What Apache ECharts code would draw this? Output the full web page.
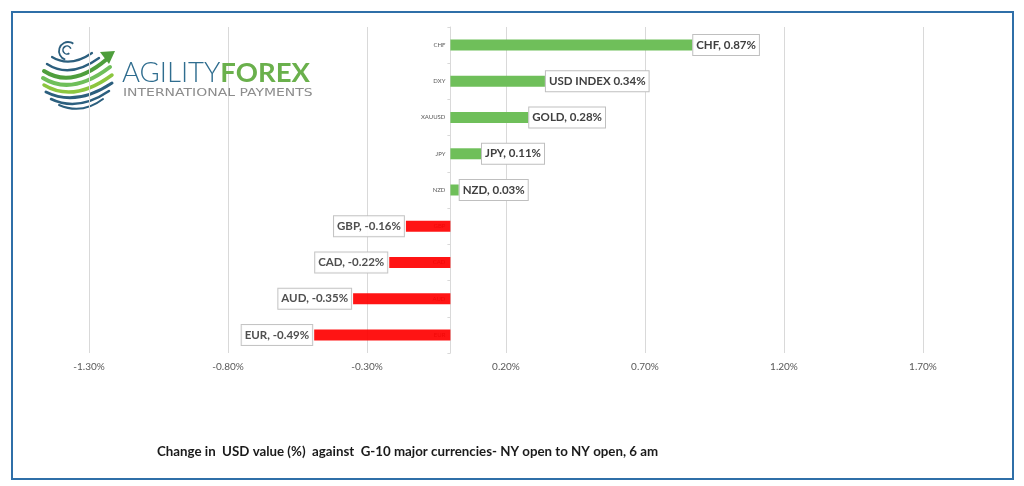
<!DOCTYPE html>
<html>
<head>
<meta charset="utf-8">
<script src="https://cdn.jsdelivr.net/npm/echarts@6/dist/echarts.min.js"></script>
<style>
html,body{margin:0;padding:0;background:#fff;}
#chart{width:1024px;height:486px;}
</style>
</head>
<body>
<div id="chart"></div>
<script>
// ---- data ----
const categories = ['CHF', 'DXY', 'XAUUSD', 'JPY', 'NZD', 'GBP', 'CAD', 'AUD', 'EUR'];
const values = [0.87, 0.34, 0.28, 0.11, 0.03, -0.16, -0.22, -0.35, -0.49];
const dataLabels = ['CHF, 0.87%', 'USD INDEX 0.34%', 'GOLD, 0.28%', 'JPY, 0.11%', 'NZD, 0.03%',
                    'GBP, -0.16%', 'CAD, -0.22%', 'AUD, -0.35%', 'EUR, -0.49%'];
const xTickMin = -1.3;
const xTickMax = 1.7;
const xTickStep = 0.5;
const chartTitle = 'Change in  USD value (%)  against  G-10 major currencies- NY open to NY open, 6 am';
const logoWord1 = 'AGILITY';
const logoWord2 = 'FOREX';
const logoSub = 'INTERNATIONAL PAYMENTS';

const GREEN = '#6fbf5a';
const RED = '#ff0000';
const LABEL_FONT = 'Lato, "Open Sans", sans-serif';

// layout
const GRID_LEFT = 89, GRID_RIGHT = 101, GRID_TOP = 27, GRID_BOTTOM = 133;
const gridWidth = 1024 - GRID_LEFT - GRID_RIGHT;
// place the category axis on the zero line of the value axis
const yAxisOffset = -((0 - xTickMin) / (xTickMax - xTickMin)) * gridWidth;

const seriesData = values.map((v, i) => ({
  value: v,
  itemStyle: { color: v >= 0 ? GREEN : RED, opacity: v >= 0 ? 1 : 0.92 },
  label: { position: v >= 0 ? 'right' : 'left', distance: v >= 0 ? 1 : 2 }
}));

const chart = echarts.init(document.getElementById('chart'), null, { renderer: 'canvas' });

const BLUE = '#2c5f7e';
const LGREEN = '#8cc63f';
const DGREEN = '#4e9e3c';
function curve(x1, y1, cx, cy, x2, y2, color, lw) {
  return { type: 'bezierCurve', silent: true,
    shape: { x1: x1, y1: y1, cpx1: cx, cpy1: cy, x2: x2, y2: y2 },
    style: { stroke: color, lineWidth: lw, fill: null, lineCap: 'round' } };
}

const option = {
  backgroundColor: '#ffffff',
  animation: false,
  grid: { left: GRID_LEFT, right: GRID_RIGHT, top: GRID_TOP, bottom: GRID_BOTTOM, containLabel: false },
  xAxis: {
    type: 'value',
    min: xTickMin,
    max: xTickMax,
    interval: xTickStep,
    axisLine: { show: false },
    axisTick: { show: false },
    splitLine: { show: true, lineStyle: { color: '#d9d9d9', width: 1 } },
    axisLabel: {
      margin: 9,
      fontSize: 10,
      color: '#595959',
      fontFamily: LABEL_FONT,
      formatter: v => v.toFixed(2) + '%'
    }
  },
  yAxis: {
    type: 'category',
    data: categories,
    inverse: true,
    position: 'left',
    offset: yAxisOffset,
    axisLine: { show: true, onZero: false, lineStyle: { color: '#d9d9d9', width: 1 } },
    axisTick: { show: true, length: 3, lineStyle: { color: '#d9d9d9' } },
    axisLabel: { fontSize: 6, color: '#595959', margin: 5, fontFamily: LABEL_FONT },
    splitLine: { show: false }
  },
  series: [{
    type: 'bar',
    data: seriesData,
    barWidth: 11,
    z: 3,
    label: {
      show: true,
      formatter: p => dataLabels[p.dataIndex],
      fontFamily: LABEL_FONT,
      fontWeight: 'bold',
      fontSize: 11.5,
      color: '#404040',
      backgroundColor: '#ffffff',
      borderColor: '#bfbfbf',
      borderWidth: 1,
      padding: [4, 3, 3, 3],
      lineHeight: 13
    }
  }],
  graphic: [
    // outer frame
    { type: 'rect', silent: true, z: 10,
      shape: { x: 12, y: 12, width: 1001, height: 467 },
      style: { fill: null, stroke: '#2f6fa8', lineWidth: 2 } },
    // title
    { type: 'text', silent: true, z: 10, x: 157, y: 452,
      style: { text: chartTitle, fontFamily: LABEL_FONT, fontWeight: 'bold', fontSize: 13.3,
               fill: '#1a1a1a', verticalAlign: 'middle', align: 'left' } },
    // logo globe
    { type: 'group', silent: true, z: 10, children: [
      { type: 'arc', shape: { cx: 67, cy: 50, r: 4, startAngle: 0.3 * Math.PI, endAngle: 1.9 * Math.PI },
        style: { stroke: BLUE, lineWidth: 1.6, fill: null } },
      { type: 'arc', shape: { cx: 68, cy: 51, r: 9, startAngle: 0.6 * Math.PI, endAngle: 1.7 * Math.PI },
        style: { stroke: BLUE, lineWidth: 1.8, fill: null } },
      curve(52, 57, 70, 68, 92, 53, BLUE, 2.2),
      curve(47, 64, 70, 79, 99, 58, BLUE, 2.4),
      curve(44, 71, 72, 89, 107, 59, DGREEN, 4),
      curve(43, 78, 72, 96, 110, 67, GREEN, 4),
      curve(44, 85, 74, 103, 112, 75, LGREEN, 3.5),
      curve(46, 92, 76, 107, 112, 83, BLUE, 3),
      curve(51, 99, 78, 112, 109, 91, BLUE, 2.5),
      curve(59, 105, 82, 115, 103, 99, BLUE, 2),
      { type: 'polygon', shape: { points: [[100, 52], [115, 51], [109, 64]] },
        style: { fill: DGREEN } }
    ] },
    // logo text
    { type: 'text', silent: true, z: 10, x: 122, y: 73,
      style: { text: '{a|' + logoWord1 + '}{b|' + logoWord2 + '}',
               verticalAlign: 'middle', align: 'left',
               rich: {
                 a: { fontFamily: 'Lato, sans-serif', fontWeight: 300, fontSize: 27.5, fill: '#2f6d8f' },
                 b: { fontFamily: 'Lato, sans-serif', fontWeight: 'bold', fontSize: 27.5, fill: '#6ab04c' }
               } } },
    { type: 'text', silent: true, z: 10, x: 123, y: 93, scaleX: 1.33,
      style: { text: logoSub, fontFamily: '"DejaVu Sans", sans-serif', fontSize: 10.5,
               fill: '#8c8c8c', verticalAlign: 'middle', align: 'left' } }
  ]
};

chart.setOption(option);
</script>
</body>
</html>
